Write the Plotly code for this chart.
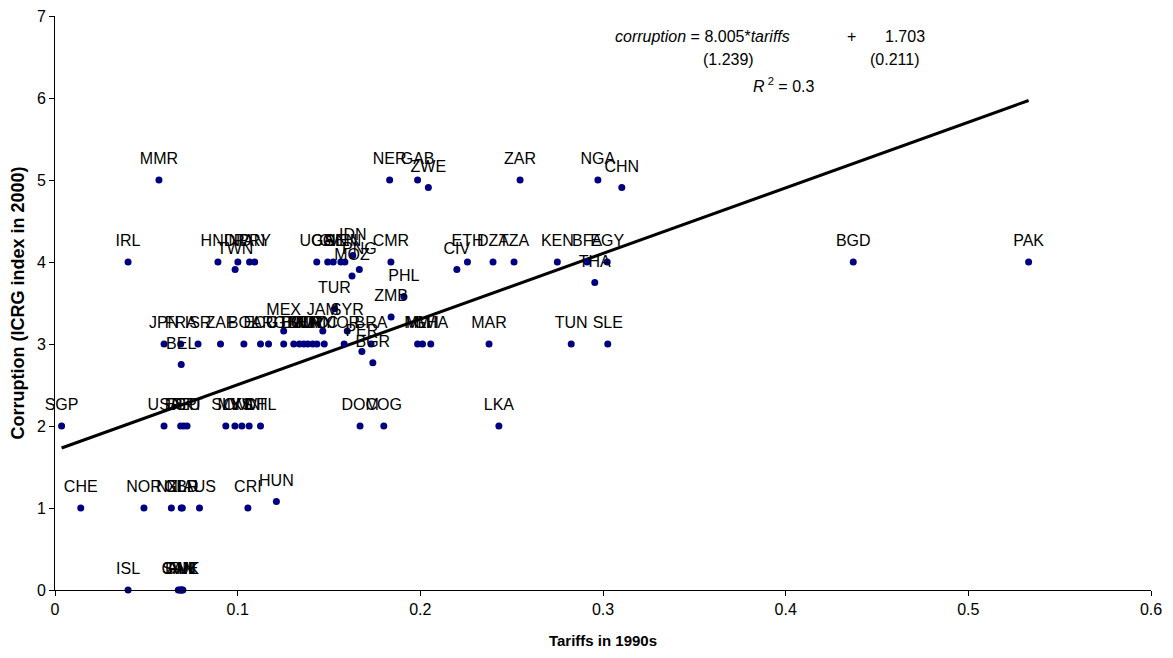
import plotly.graph_objects as go

# ---- data ----
codes = [
    "MMR", "NER", "GAB", "ZAR", "NGA", "ZWE", "CHN",
    "IRL", "HND", "IND", "PAN", "PRY", "UGA", "COL", "GIN", "SEN", "VEN", "CMR",
    "ETH", "DZA", "TZA", "KEN", "BFA", "EGY", "BGD", "PAK",
    "TWN", "IDN", "PNG", "MOZ", "CIV", "THA", "PHL", "ZMB", "TUR",
    "MEX", "JAM", "SYR",
    "JPN", "FRA", "ISR", "ZAF", "BOL", "ECU", "ARG", "GTM", "HTI", "BWA", "BHR",
    "GUY", "TTO", "URY", "NIC", "JOR", "BRA", "MLI", "MWI", "GHA", "MAR", "TUN", "SLE",
    "PER", "BGR", "BEL",
    "SGP", "USA", "ESP", "DEU", "PRT", "SLV", "MYS", "OMN", "KWT", "CHL", "DOM", "COG", "LKA",
    "CHE", "NOR", "NZL", "GBR", "NLD", "AUS", "CRI", "HUN",
    "ISL", "CAN", "SWE", "FIN", "DNK", "AUT",
]
tariffs = [
    0.0569, 0.1832, 0.1985, 0.2546, 0.2972, 0.2044, 0.3103,
    0.0400, 0.0892, 0.1001, 0.1065, 0.1093, 0.1433, 0.1493, 0.1523, 0.1565, 0.1587, 0.1839,
    0.2258, 0.2398, 0.2513, 0.2750, 0.2913, 0.3023, 0.4370, 0.5330,
    0.0986, 0.1630, 0.1666, 0.1626, 0.2200, 0.2955, 0.1910, 0.1840, 0.1530,
    0.1252, 0.1466, 0.1600,
    0.0597, 0.0688, 0.0783, 0.0906, 0.1034, 0.1125, 0.1169, 0.1252, 0.1307, 0.1338, 0.1362,
    0.1384, 0.1411, 0.1434, 0.1474, 0.1583, 0.1730, 0.1985, 0.2012, 0.2057, 0.2376, 0.2826, 0.3026,
    0.1680, 0.1740, 0.0691,
    0.0036, 0.0597, 0.0688, 0.0705, 0.0723, 0.0935, 0.0985, 0.1023, 0.1063, 0.1125, 0.1670, 0.1800, 0.2430,
    0.0141, 0.0487, 0.0637, 0.0691, 0.0697, 0.0791, 0.1056, 0.1212,
    0.0400, 0.0675, 0.0685, 0.0690, 0.0695, 0.0700,
]
corruption = [
    5, 5, 5, 5, 5, 4.91, 4.91,
    4, 4, 4, 4, 4, 4, 4, 4, 4, 4, 4,
    4, 4, 4, 4, 4, 4, 4, 4,
    3.91, 4.08, 3.91, 3.83, 3.91, 3.75, 3.58, 3.33, 3.43,
    3.16, 3.16, 3.16,
    3, 3, 3, 3, 3, 3, 3, 3, 3, 3, 3,
    3, 3, 3, 3, 3, 3, 3, 3, 3, 3, 3, 3,
    2.91, 2.77, 2.75,
    2, 2, 2, 2, 2, 2, 2, 2, 2, 2, 2, 2, 2,
    1, 1, 1, 1, 1, 1, 1, 1.08,
    0, 0, 0, 0, 0, 0,
]

# trendline coefficients and statistics as printed on the chart
slope = 8.005
intercept = 1.703
slope_se = "(1.239)"
intercept_se = "(0.211)"
r_squared = "0.3"
x_ticks = [0, 0.1, 0.2, 0.3, 0.4, 0.5, 0.6]
y_ticks = [0, 1, 2, 3, 4, 5, 6, 7]

FONT = "Liberation Sans, Arial, sans-serif"

fig = go.Figure()

# regression line (drawn first so dots and labels sit on top)
xmin, xmax = min(tariffs), max(tariffs)
fig.add_trace(go.Scatter(
    x=[xmin, xmax], y=[slope * xmin + intercept, slope * xmax + intercept],
    mode="lines", line=dict(color="#000000", width=3),
    showlegend=False, hoverinfo="skip",
))

# dots
fig.add_trace(go.Scatter(
    x=tariffs, y=corruption, mode="markers",
    marker=dict(color="#000080", size=7),
    cliponaxis=False, showlegend=False, hoverinfo="skip",
))

# country labels (invisible larger markers push the text a bit higher)
fig.add_trace(go.Scatter(
    x=tariffs, y=corruption, mode="markers+text",
    text=codes, textposition="top center",
    textfont=dict(family=FONT, size=16, color="#000000"),
    marker=dict(color="rgba(0,0,0,0)", size=17),
    cliponaxis=False, showlegend=False, hoverinfo="skip",
))

eq_font = dict(family=FONT, size=16, color="#000000")
fig.add_annotation(x=0.3052, y=6.755, xref="x", yref="y", xanchor="left", showarrow=False,
                   text=f"<i>corruption</i> = {slope:.3f}*<i>tariffs</i>", font=eq_font)
fig.add_annotation(x=0.436, y=6.755, xref="x", yref="y", showarrow=False,
                   text="+", font=eq_font)
fig.add_annotation(x=0.4655, y=6.755, xref="x", yref="y", showarrow=False,
                   text=f"{intercept:.3f}", font=eq_font)
fig.add_annotation(x=0.3686, y=6.465, xref="x", yref="y", showarrow=False,
                   text=slope_se, font=eq_font)
fig.add_annotation(x=0.4598, y=6.465, xref="x", yref="y", showarrow=False,
                   text=intercept_se, font=eq_font)
fig.add_annotation(x=0.399, y=6.16, xref="x", yref="y", showarrow=False,
                   text=f"<i>R</i><sup> 2</sup> = {r_squared}", font=eq_font)

fig.update_layout(
    width=1173, height=658,
    margin=dict(l=47, r=30, t=8, b=76, autoexpand=False),
    paper_bgcolor="#ffffff", plot_bgcolor="#ffffff",
    font=dict(family=FONT, size=16, color="#000000"),
)
fig.update_xaxes(
    range=[0, 0.6], tickvals=x_ticks, ticktext=[f"{v:g}" for v in x_ticks],
    tickfont=dict(family=FONT, size=16), ticklabeloverflow="allow",
    showgrid=False, zeroline=False, showline=True, linecolor="#000000", linewidth=1,
    ticks="outside", ticklen=5, tickcolor="#000000",
    title=dict(text="<b>Tariffs in 1990s</b>", font=dict(family=FONT, size=15), standoff=18),
    automargin=False,
)
fig.update_yaxes(
    range=[0, 7], tickvals=y_ticks,
    tickfont=dict(family=FONT, size=16), ticklabeloverflow="allow",
    showgrid=False, zeroline=False, showline=True, linecolor="#000000", linewidth=1,
    ticks="outside", ticklen=5, tickcolor="#000000",
    title=dict(text="<b>Corruption (ICRG index in 2000)</b>", font=dict(family=FONT, size=18), standoff=10),
    automargin=False,
)

fig.write_html("out.html")
